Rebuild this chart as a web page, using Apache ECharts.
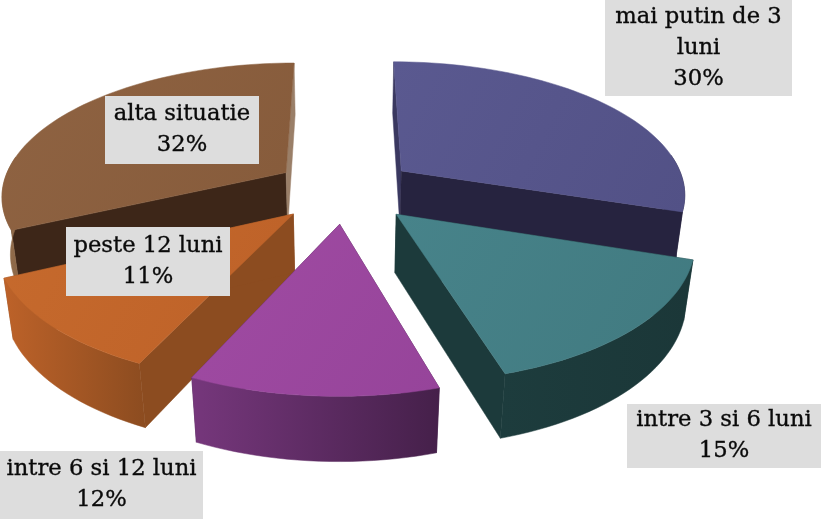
<!DOCTYPE html>
<html><head><meta charset="utf-8">
<style>html,body{margin:0;padding:0;background:#fff}#c{width:821px;height:519px}</style>
<script src="https://cdn.jsdelivr.net/npm/echarts@6/dist/echarts.min.js"></script>
</head><body><div id="c"></div>
<script>
const categories = ['mai putin de 3\nluni', 'intre 3 si 6 luni', 'intre 6 si 12 luni', 'peste 12 luni', 'alta situatie'];
const percents = [30, 15.4, 11.5, 11.1, 32];
const percentLabels = ['30%', '15%', '12%', '11%', '32%'];
const topColors = [['#5a5990', '#525186'], ['#47838a', '#417a80'], ['#a04ba3', '#96449a'], ['#c66a2d', '#bd6128'], ['#8f6342', '#865b3b']];
const startWallColors = [['#3a3860'], ['#1c3a3b'], ['#46204a'], ['#8c4c20'], ['#3d2618']];
const endWallColors = [['#26233f'], ['#1c3a3b'], ['#46204a'], ['#8c4c20'], ['#9a7f68']];
const outerColors = [['#26233f', '#26233f'], ['#1d3c3d', '#1b3738'], ['#76377c', '#45204a'], ['#bd6229', '#8c4c20'], ['#94704f', '#8a6444']];
const paintOrder = [1, 2, 3, 2, 1];
const labelBoxes = [[605, 0, 187, 96], [627, 404, 194, 64], [0, 451, 203, 68], [66, 227, 164, 69], [105, 96, 154, 68]];

const cam = { cx: 345, cy: 189.9, R: 285, S: 132.2, H: 59, k: 0.16, m: 0.025, explode: 0.25 };
const total = percents.reduce((a, b) => a + b, 0);
function project(u, v, z) {
  const w = 1 - cam.k * v + cam.m * z;
  return [cam.cx + cam.R * u / w, cam.cy + (cam.S * v + cam.H * z) / w];
}
function grad(pair, x2, y2) {
  return new echarts.graphic.LinearGradient(0, 0, x2, y2, [{ offset: 0, color: pair[0] }, { offset: 1, color: pair[1] }]);
}
function renderSlice(params, api) {
  const i = params.dataIndex;
  const val = api.value(0);
  let before = 0;
  for (let j = 0; j < i; j++) before += percents[j];
  const a0 = before / total * 2 * Math.PI, a1 = (before + val) / total * 2 * Math.PI, mid = (a0 + a1) / 2;
  const ou = cam.explode * Math.sin(mid), ov = -cam.explode * Math.cos(mid);
  const pt = (a, r, z) => project(ou + r * Math.sin(a), ov - r * Math.cos(a), z);
  const arcTop = [], wallTop = [], wallBot = [];
  const n = Math.max(12, Math.round(val * 2));
  for (let s = 0; s <= n; s++) {
    const a = a0 + (a1 - a0) * s / n;
    arcTop.push(pt(a, 1, 0));
    if (-Math.cos(a) > -0.15) {
      wallTop.push(pt(a, 1, 0));
      wallBot.push(pt(a, 1, 1));
    }
  }
  const base = paintOrder[i] * 10;
  const poly = (points, fill, o) => ({ type: 'polygon', z2: base + o, shape: { points }, style: { fill, stroke: fill, lineWidth: 0.5 } });
  return { type: 'group', children: [
    poly([pt(a0, 0, 0), pt(a0, 0, 1), pt(a0, 1, 1), pt(a0, 1, 0)], startWallColors[i][0], 0),
    poly([pt(a1, 0, 0), pt(a1, 0, 1), pt(a1, 1, 1), pt(a1, 1, 0)], endWallColors[i][0], 0),
    poly(wallTop.concat(wallBot.slice().reverse()), grad(outerColors[i], 1, 0), 1),
    poly([pt(a0, 0, 0)].concat(arcTop), grad(topColors[i], 1, 1), 2)
  ] };
}
function renderLabel(params, api) {
  const i = params.dataIndex;
  const b = labelBoxes[i];
  return { type: 'group', children: [
    { type: 'rect', z2: 100, shape: { x: b[0], y: b[1], width: b[2], height: b[3] }, style: { fill: '#dddddd' } },
    { type: 'text', z2: 101, x: b[0] + b[2] / 2, y: b[1] + b[3] / 2, style: {
      text: categories[i] + '\n' + percentLabels[i], fill: '#0a0a0a', stroke: '#0a0a0a', lineWidth: 0.35, align: 'center', verticalAlign: 'middle',
      font: '22.7px "DejaVu Serif"', lineHeight: 31 } }
  ] };
}
const chart = echarts.init(document.getElementById('c'), null, { renderer: 'canvas' });
chart.setOption({
  animation: false,
  backgroundColor: '#fff',
  series: [
    { type: 'custom', coordinateSystem: 'none', renderItem: renderSlice, data: percents.map(v => [v]), silent: true },
    { type: 'custom', coordinateSystem: 'none', renderItem: renderLabel, data: percents.map(v => [v]), silent: true, z: 5 }
  ]
});
</script></body></html>
